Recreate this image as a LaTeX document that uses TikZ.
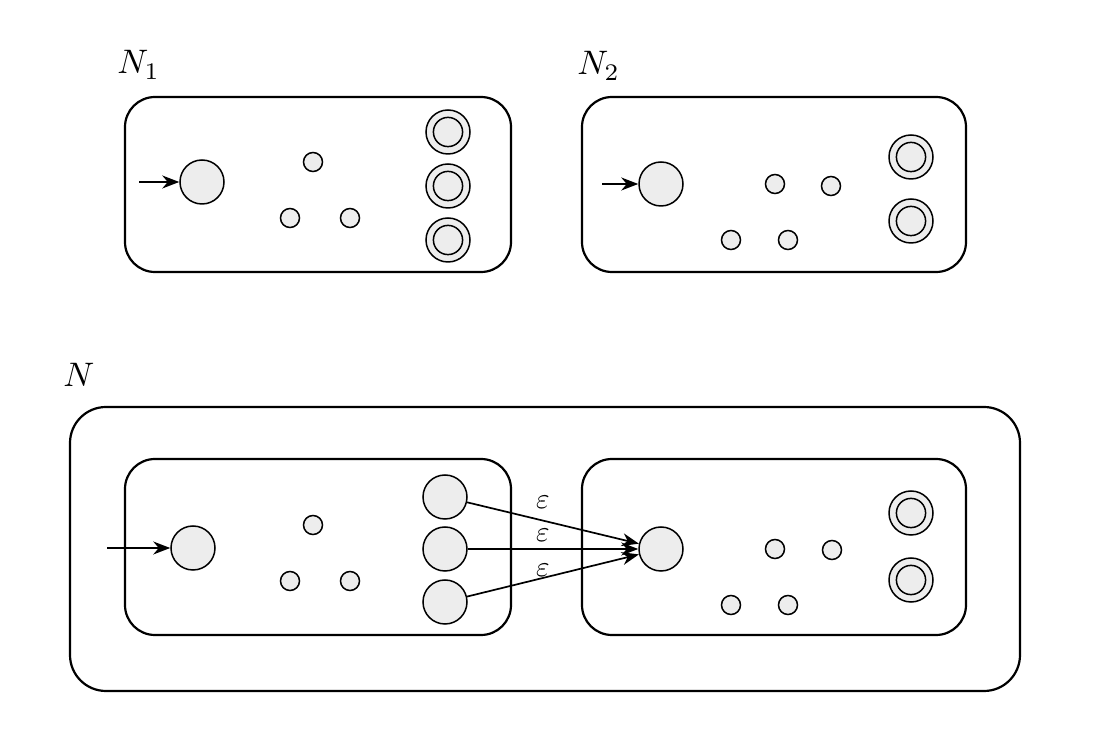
\documentclass[tikz,border=0pt]{standalone}
\usepackage{graphicx}
\usetikzlibrary{arrows.meta}
\newcommand{\bigtxt}[1]{\scalebox{1.7}{#1}}
\begin{document}
\begin{tikzpicture}[x=0.5pt,y=-0.5pt,
  st/.style={circle,draw,line width=0.75pt,fill=black!7,inner sep=0pt},
  startst/.style={st,minimum size=22pt},
  smallst/.style={st,minimum size=9.5pt},
  acc/.style={st,minimum size=22pt,path picture={\draw[line width=0.75pt] (path picture bounding box.center) circle (7.3pt);}},
  box/.style={draw,line width=1.1pt,rounded corners=15pt},
  bigbox/.style={draw,line width=1.1pt,rounded corners=18pt},
  arr/.style={-{Stealth[length=8.5pt,width=6.5pt]},line width=0.85pt},
  lab/.style={inner sep=0pt,anchor=base west},
  elab/.style={inner sep=0pt}]
\useasboundingbox (0,0) rectangle (1094,732);
% N1
\draw[box] (125,97) rectangle (511,272);
\node[lab] (l1) at (117,74) {\bigtxt{$N_1$}};
\node[startst] (a0) at (202,182) {};
\node[smallst] (a1) at (313,162) {};
\node[smallst] (a2) at (290,218) {};
\node[smallst] (a3) at (350,218) {};
\node[acc] (af1) at (448,132) {};
\node[acc] (af2) at (448,186) {};
\node[acc] (af3) at (448,240) {};
\coordinate (ai) at (139,182);
\draw[arr] (ai) -- (a0);
% N2
\draw[box] (582,97) rectangle (966,272);
\node[lab] (l2) at (577,75) {\bigtxt{$N_2$}};
\node[startst] (b0) at (661,184) {};
\node[smallst] (b1) at (775,184) {};
\node[smallst] (b2) at (831,186) {};
\node[smallst] (b3) at (731,240) {};
\node[smallst] (b4) at (788,240) {};
\node[acc] (bf1) at (911,157) {};
\node[acc] (bf2) at (911,221) {};
\coordinate (bi) at (602,184);
\draw[arr] (bi) -- (b0);
% N
\node[lab] (l3) at (63,387) {\bigtxt{$N$}};
\draw[bigbox] (70,407) rectangle (1020,691);
\draw[box] (125,459) rectangle (511,635);
\draw[box] (582,459) rectangle (966,635);
\node[startst] (c0) at (193,548) {};
\node[smallst] (c1) at (313,525) {};
\node[smallst] (c2) at (290,581) {};
\node[smallst] (c3) at (350,581) {};
\node[startst] (cf1) at (445,497) {};
\node[startst] (cf2) at (445,549) {};
\node[startst] (cf3) at (445,602) {};
\coordinate (ci) at (107,548);
\draw[arr] (ci) -- (c0);
\node[startst] (d0) at (661,549) {};
\node[smallst] (d1) at (775,549) {};
\node[smallst] (d2) at (832,550) {};
\node[smallst] (d3) at (731,605) {};
\node[smallst] (d4) at (788,605) {};
\node[acc] (df1) at (911,513) {};
\node[acc] (df2) at (911,580) {};
\draw[arr] (cf1) -- (d0);
\draw[arr] (cf2) -- (d0);
\draw[arr] (cf3) -- (d0);
\node[elab] (e1) at (543,502) {\scalebox{1.45}{$\varepsilon$}};
\node[elab] (e2) at (543,535) {\scalebox{1.45}{$\varepsilon$}};
\node[elab] (e3) at (543,570) {\scalebox{1.45}{$\varepsilon$}};
\end{tikzpicture}
\end{document}
